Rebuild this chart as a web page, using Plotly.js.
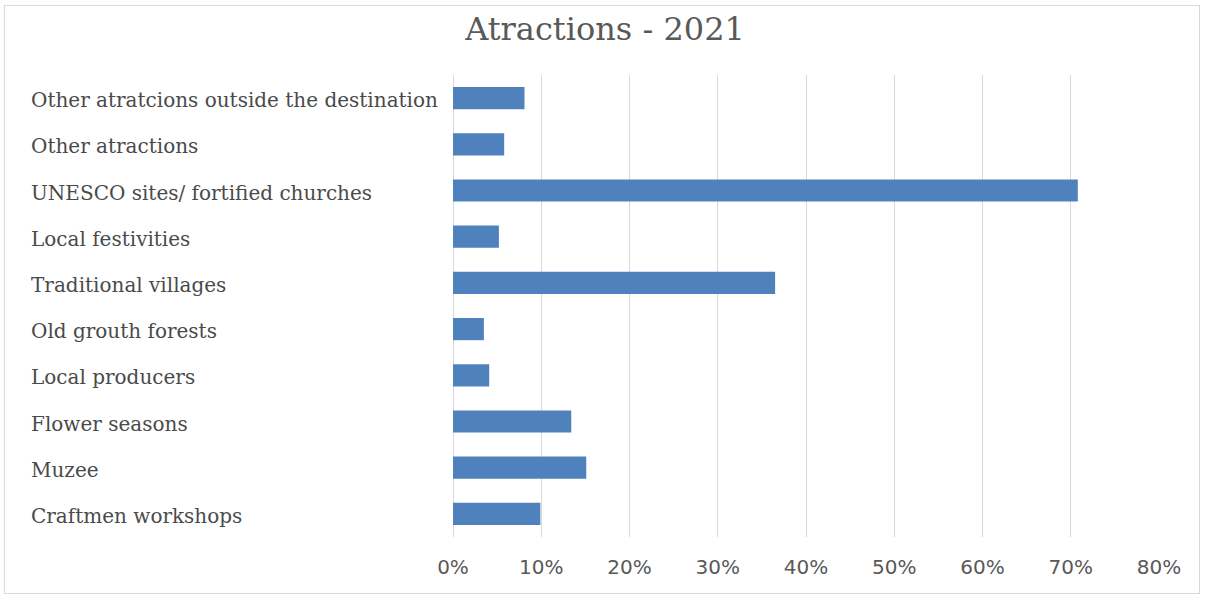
<!DOCTYPE html>
<html>
<head>
<meta charset="utf-8">
<script src="https://cdn.plot.ly/plotly-3.0.1.min.js"></script>
<style>
html,body{margin:0;padding:0;background:#fff;}
#frame{position:absolute;left:4px;top:5px;width:1196px;height:589px;border:1px solid #d9d9d9;box-sizing:border-box;}
#chart{position:absolute;left:0;top:0;width:1205px;height:599px;}
</style>
</head>
<body>
<div id="frame"></div>
<div id="chart"></div>
<script>
// Categories listed bottom to top
const categories = [
  "Craftmen workshops",
  "Muzee",
  "Flower seasons",
  "Local producers",
  "Old grouth forests",
  "Traditional villages",
  "Local festivities",
  "UNESCO sites/ fortified churches",
  "Other atractions",
  "Other atratcions outside the destination"
];
const values = [0.099, 0.151, 0.134, 0.041, 0.035, 0.365, 0.052, 0.708, 0.058, 0.081];
const tickVals = [0, 0.1, 0.2, 0.3, 0.4, 0.5, 0.6, 0.7, 0.8];
const tickText = ["0%", "10%", "20%", "30%", "40%", "50%", "60%", "70%", "80%"];
const chartTitle = "Atractions - 2021";

const trace = {
  type: "bar",
  orientation: "h",
  x: values,
  y: categories,
  marker: {color: "#4f81bd", line: {width: 0}},
  hoverinfo: "x+y"
};

// Left-aligned category labels (Excel style)
const labelAnnotations = categories.map(c => ({
  text: c,
  xref: "paper",
  x: (29 - 453) / 706,
  xanchor: "left",
  yref: "y",
  y: c,
  yanchor: "middle",
  yshift: -2,
  showarrow: false,
  font: {family: "DejaVu Serif", size: 20, color: "#4a4a4a"}
}));

const layout = {
  width: 1205,
  height: 599,
  margin: {l: 453, r: 46, t: 75, b: 62, pad: 0},
  paper_bgcolor: "rgba(0,0,0,0)",
  plot_bgcolor: "rgba(0,0,0,0)",
  bargap: 0.52,
  showlegend: false,
  title: {
    text: chartTitle,
    font: {family: "DejaVu Serif", size: 32, color: "#595959"},
    x: 605 / 1205, xanchor: "center", xref: "container",
    y: 1 - 29/599, yanchor: "middle", yref: "container"
  },
  annotations: labelAnnotations,
  xaxis: {
    range: [0, 0.8],
    tickvals: tickVals,
    ticktext: tickText,
    showgrid: true,
    gridcolor: "#d9d9d9",
    gridwidth: 1,
    zeroline: true,
    zerolinecolor: "#d9d9d9",
    zerolinewidth: 1,
    showline: false,
    ticks: "",
    ticklabelstandoff: 16,
    tickfont: {family: "DejaVu Sans", size: 20, color: "#595959"},
    fixedrange: true
  },
  yaxis: {
    type: "category",
    categoryorder: "array",
    categoryarray: categories,
    showgrid: false,
    zeroline: false,
    showline: false,
    ticks: "",
    showticklabels: false,
    fixedrange: true
  }
};

Plotly.newPlot("chart", [trace], layout, {displayModeBar: false, staticPlot: true});
</script>
</body>
</html>
